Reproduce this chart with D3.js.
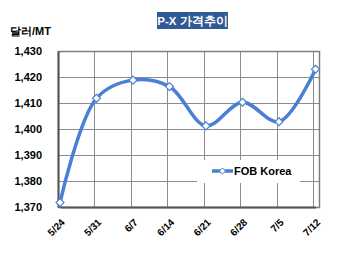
<!DOCTYPE html>
<html>
<head>
<meta charset="utf-8">
<script src="https://cdn.jsdelivr.net/npm/d3@7"></script>
<style>
  body { margin: 0; background: #fff; }
  svg { display: block; font-family: "Liberation Sans", Arial, sans-serif; }
</style>
</head>
<body>
<svg id="chart" width="350" height="257"></svg>
<script>
// data
const dates = ['5/24', '5/31', '6/7', '6/14', '6/21', '6/28', '7/5', '7/12'];
const fobKorea = [1371.7, 1411.8, 1418.8, 1416.3, 1401.2, 1410.3, 1402.8, 1423];
const yTicks = [1370, 1380, 1390, 1400, 1410, 1420, 1430];

const svg = d3.select('#chart');
const plot = {left: 58, right: 319, top: 51, bottom: 207};

let x = d3.scalePoint().domain(dates).range([60, 315.5]);
let y = d3.scaleLinear().domain([1370, 1430]).range([plot.bottom, plot.top]);

// title box
svg.append('rect')
  .attr('x', 157).attr('y', 12).attr('width', 71).attr('height', 17)
  .attr('fill', '#2f5a96');
svg.append('text')
  .attr('x', 192.5).attr('y', 24.5)
  .attr('text-anchor', 'middle')
  .attr('fill', '#fff')
  .attr('font-size', 11.5)
  .attr('font-weight', 'bold')
  .text('P-X 가격추이');

// unit label
svg.append('text')
  .attr('x', 10).attr('y', 35)
  .attr('font-size', 11)
  .attr('font-weight', 'bold')
  .text('달러/MT');

// gridlines
let grid = svg.append('g').attr('stroke', '#8c8c8c').attr('stroke-width', 1);
grid.selectAll('line.h')
  .data(yTicks)
  .join('line')
  .attr('class', 'h')
  .attr('x1', plot.left).attr('x2', plot.right)
  .attr('y1', d => Math.round(y(d)) + 0.5)
  .attr('y2', d => Math.round(y(d)) + 0.5);
grid.selectAll('line.v')
  .data(dates.slice(1))
  .join('line')
  .attr('class', 'v')
  .attr('x1', d => Math.round(x(d) - 2.5) + 0.5)
  .attr('x2', d => Math.round(x(d) - 2.5) + 0.5)
  .attr('y1', plot.top).attr('y2', plot.bottom);

// plot border
svg.append('rect')
  .attr('x', plot.left + 0.5).attr('y', plot.top + 0.5)
  .attr('width', plot.right - plot.left).attr('height', plot.bottom - plot.top)
  .attr('fill', 'none')
  .attr('stroke', '#7f7f7f')
  .attr('stroke-width', 1.5);

// y axis
let yAxis = svg.append('g')
  .attr('transform', 'translate(' + plot.left + ',0)')
  .call(d3.axisLeft(y).tickValues(yTicks).tickSize(0).tickPadding(16).tickFormat(d3.format(',')));
yAxis.select('.domain').attr('stroke', '#555').attr('stroke-width', 2);
yAxis.selectAll('text')
  .attr('font-size', 11)
  .attr('font-weight', 'bold')
  .attr('fill', '#000')
  .attr('font-family', '"Liberation Sans", Arial, sans-serif');

// x axis
let xAxis = svg.append('g')
  .attr('transform', 'translate(0,' + plot.bottom + ')')
  .call(d3.axisBottom(x).tickSize(0).tickPadding(0));
xAxis.select('.domain').attr('stroke', '#555').attr('stroke-width', 2);
xAxis.selectAll('text')
  .attr('font-size', 10)
  .attr('font-weight', 'bold')
  .attr('fill', '#000')
  .attr('font-family', '"Liberation Sans", Arial, sans-serif')
  .attr('text-anchor', 'end')
  .attr('dy', 0)
  .attr('transform', 'translate(5,16) rotate(-45)');

// legend box
svg.append('rect')
  .attr('x', 197).attr('y', 160).attr('width', 103).attr('height', 23)
  .attr('fill', '#fff');

// series line
const line = d3.line()
  .x((d, i) => x(dates[i]))
  .y(d => y(d))
  .curve(d3.curveCatmullRom.alpha(0.5));

svg.append('path')
  .datum(fobKorea)
  .attr('fill', 'none')
  .attr('stroke', '#4a7fd6')
  .attr('stroke-width', 3.5)
  .attr('stroke-linejoin', 'round')
  .attr('d', line);

const diamond = d3.symbol().type(d3.symbolDiamond2).size(40);
svg.selectAll('path.pt')
  .data(fobKorea)
  .join('path')
  .attr('class', 'pt')
  .attr('transform', (d, i) => 'translate(' + x(dates[i]) + ',' + y(d) + ')')
  .attr('d', diamond)
  .attr('fill', '#fff')
  .attr('stroke', '#4a7fd6')
  .attr('stroke-width', 1.2);

// legend
let lg = svg.append('g').attr('transform', 'translate(212,171)');
lg.append('line')
  .attr('x1', 0).attr('x2', 21)
  .attr('stroke', '#4a7fd6').attr('stroke-width', 3.5);
lg.append('path')
  .attr('transform', 'translate(10.5,0)')
  .attr('d', d3.symbol().type(d3.symbolDiamond2).size(24))
  .attr('fill', '#fff')
  .attr('stroke', '#4a7fd6')
  .attr('stroke-width', 1);
lg.append('text')
  .attr('x', 22).attr('y', 4)
  .attr('font-size', 11)
  .attr('font-weight', 'bold')
  .text('FOB Korea');
</script>
</body>
</html>
